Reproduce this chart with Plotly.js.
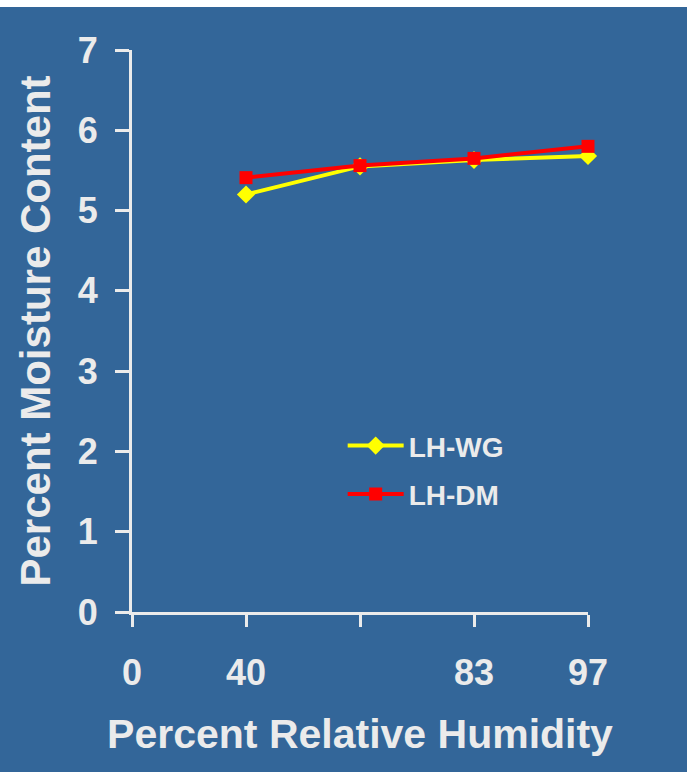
<!DOCTYPE html>
<html>
<head>
<meta charset="utf-8">
<script src="https://cdn.plot.ly/plotly-3.0.1.min.js"></script>
<style>
  html, body { margin: 0; padding: 0; background: #ffffff; }
  #chart { width: 687px; height: 765px; margin-top: 7px; }
</style>
</head>
<body>
<div id="chart"></div>
<script>
// Relative humidity categories along the x axis (third category is unlabeled)
const categories = ["0", "40", "", "83", "97"];
const catIndex = [0, 1, 2, 3, 4];

// Percent moisture content at each humidity level (none at the origin)
const lhWG = [null, 5.20, 5.55, 5.63, 5.68];
const lhDM = [null, 5.41, 5.56, 5.65, 5.80];

const yTicks = [0, 1, 2, 3, 4, 5, 6, 7];

const textColor = "#ebebeb";
const bg = "#336699";
const fontFamily = "Liberation Sans, Arial, Helvetica, sans-serif";

const traces = [
  {
    x: catIndex, y: lhWG, name: "LH-WG", type: "scatter", mode: "lines+markers",
    line: { color: "#ffff00", width: 4 },
    marker: { symbol: "diamond", size: 14, color: "#ffff00" },
    legendgroup: "a", cliponaxis: false
  },
  {
    x: catIndex, y: lhDM, name: "LH-DM", type: "scatter", mode: "lines+markers",
    line: { color: "#ff0000", width: 4 },
    marker: { symbol: "square", size: 13, color: "#ff0000" },
    legendgroup: "b", cliponaxis: false
  }
];

const layout = {
  width: 687, height: 765,
  paper_bgcolor: bg, plot_bgcolor: bg,
  margin: { l: 132, r: 99, t: 43, b: 160 },
  font: { family: fontFamily, color: textColor, size: 30, weight: 700 },
  showlegend: true,
  legend: {
    x: 0.462, y: 0.34, xanchor: "left", yanchor: "top",
    bgcolor: "rgba(0,0,0,0)",
    font: { size: 28, color: textColor, family: fontFamily, weight: 700 },
    tracegroupgap: 9,
    itemwidth: 56
  },
  xaxis: {
    range: [0, 4], fixedrange: true,
    tickmode: "array", tickvals: catIndex, ticktext: categories,
    showgrid: false, zeroline: false,
    showline: true, linecolor: textColor, linewidth: 3,
    ticks: "outside", ticklen: 12, tickwidth: 3, tickcolor: textColor,
    ticklabelstandoff: 15,
    tickfont: { size: 36, color: textColor, family: fontFamily, weight: 700 },
    title: { text: "Percent Relative Humidity", standoff: 28,
             font: { size: 41, color: textColor, family: fontFamily, weight: 700 } }
  },
  yaxis: {
    range: [0, 7], fixedrange: true,
    tickmode: "array", tickvals: yTicks,
    showgrid: false, zeroline: false,
    showline: true, linecolor: textColor, linewidth: 3,
    ticks: "outside", ticklen: 14, tickwidth: 3, tickcolor: textColor,
    ticklabelstandoff: 10,
    tickfont: { size: 36, color: textColor, family: fontFamily, weight: 700 },
    title: { text: "Percent Moisture Content", standoff: 15,
             font: { size: 42, color: textColor, family: fontFamily, weight: 700 } }
  }
};

Plotly.newPlot("chart", traces, layout, { staticPlot: true, displayModeBar: false });
</script>
</body>
</html>
